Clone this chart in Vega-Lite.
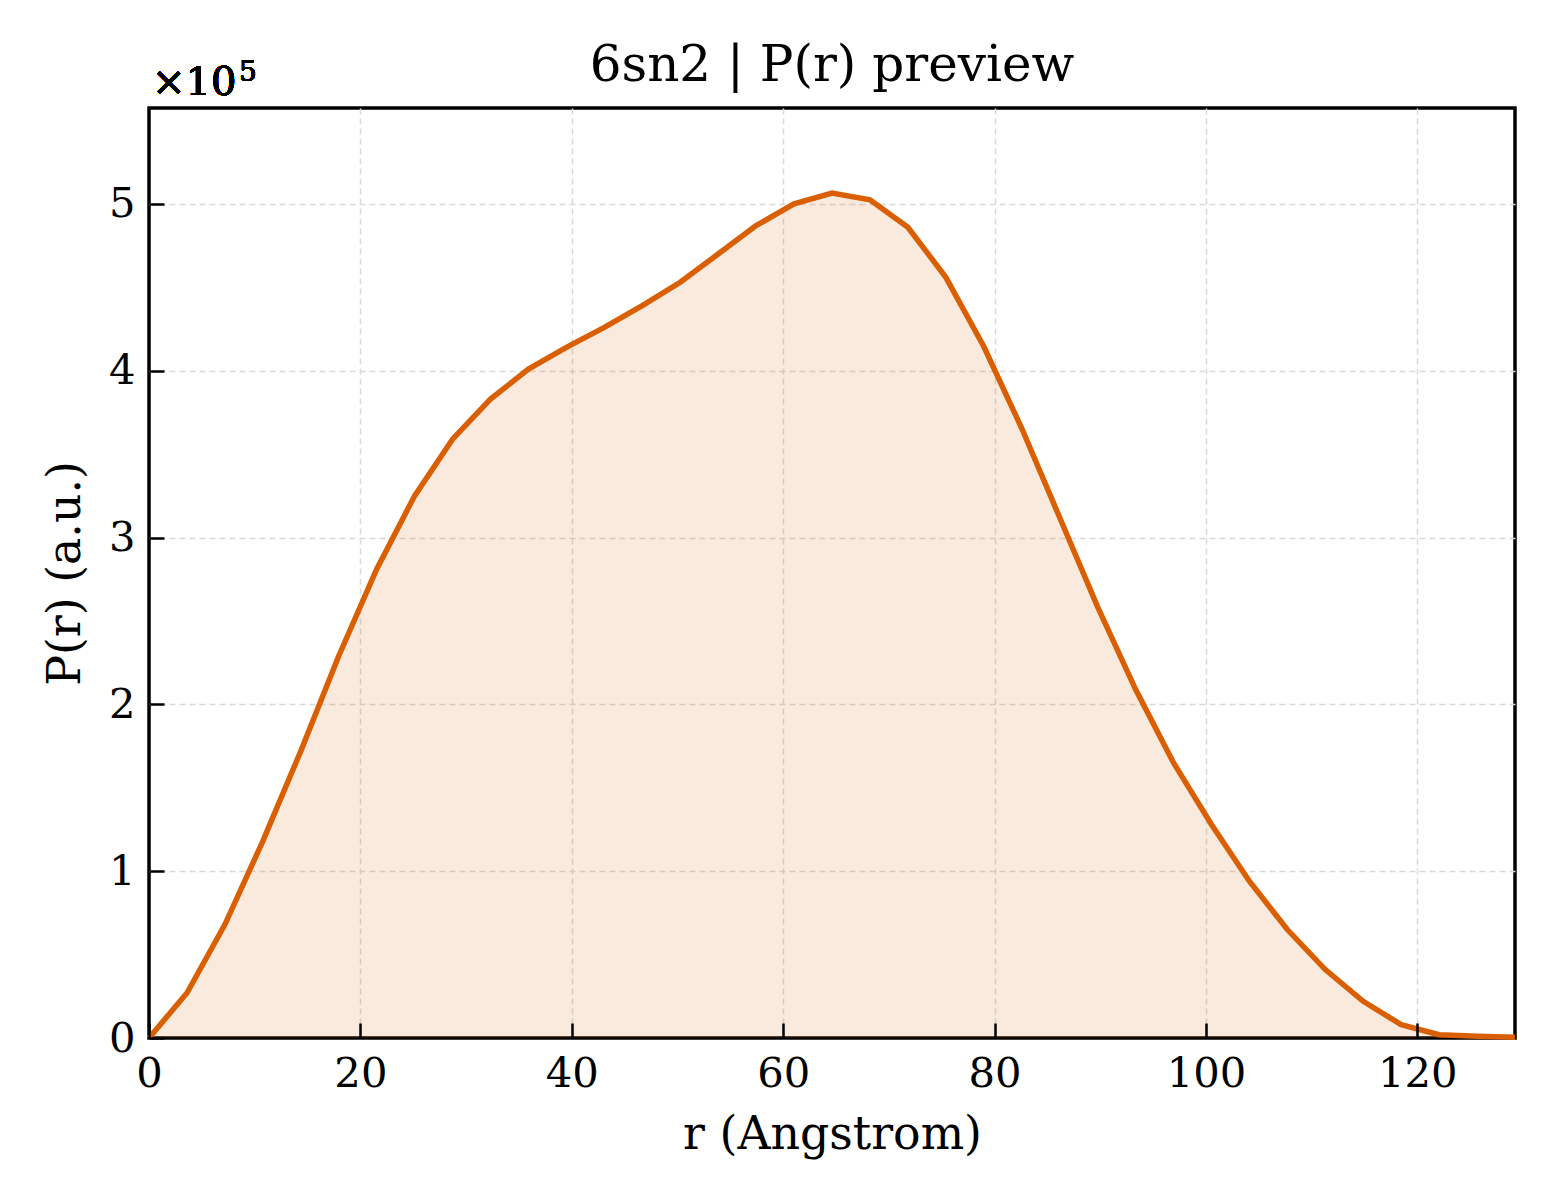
{
  "$schema": "https://vega.github.io/schema/vega-lite/v6.json",
  "autosize": "none",
  "width": 1366,
  "height": 930,
  "padding": {"left": 149, "top": 108, "right": 45, "bottom": 162},
  "background": "#ffffff",
  "title": {
    "text": "6sn2 | P(r) preview",
    "font": "DejaVu Serif",
    "fontSize": 50,
    "fontWeight": "normal",
    "color": "#000000",
    "offset": -32
  },
  "data": {
    "values": [
      {"r": 0.0, "p": 0},
      {"r": 3.59, "p": 27000},
      {"r": 7.18, "p": 68000},
      {"r": 10.77, "p": 118000},
      {"r": 14.36, "p": 172000},
      {"r": 17.95, "p": 229000},
      {"r": 21.54, "p": 281000},
      {"r": 25.13, "p": 325000},
      {"r": 28.72, "p": 359000},
      {"r": 32.31, "p": 383000},
      {"r": 35.9, "p": 401000},
      {"r": 39.49, "p": 414000},
      {"r": 43.08, "p": 426000},
      {"r": 46.67, "p": 439000},
      {"r": 50.26, "p": 453000},
      {"r": 53.85, "p": 470000},
      {"r": 57.44, "p": 487000},
      {"r": 61.03, "p": 500000},
      {"r": 64.62, "p": 506500},
      {"r": 68.21, "p": 502500},
      {"r": 71.8, "p": 486000},
      {"r": 75.39, "p": 456000},
      {"r": 78.98, "p": 414500},
      {"r": 82.57, "p": 365500},
      {"r": 86.16, "p": 312000},
      {"r": 89.75, "p": 258500},
      {"r": 93.34, "p": 209000},
      {"r": 96.93, "p": 165000},
      {"r": 100.52, "p": 128000},
      {"r": 104.11, "p": 94000},
      {"r": 107.7, "p": 65000},
      {"r": 111.29, "p": 41000},
      {"r": 114.88, "p": 22000},
      {"r": 118.47, "p": 8000},
      {"r": 122.06, "p": 2000},
      {"r": 125.65, "p": 1000},
      {"r": 129.24, "p": 500}
    ]
  },
  "layer": [
    {
      "mark": {"type": "area", "color": "#d95f02", "opacity": 0.13},
      "encoding": {
        "x": {
          "field": "r",
          "type": "quantitative",
          "title": "r (Angstrom)",
          "scale": {"domain": [0, 129.24], "nice": false, "zero": false},
          "axis": {
            "orient": "bottom",
            "values": [0, 20, 40, 60, 80, 100, 120],
            "format": "d",
            "labelPadding": 15,
            "titlePadding": 18
          }
        },
        "y": {
          "field": "p",
          "type": "quantitative",
          "title": "P(r) (a.u.)",
          "scale": {"domain": [0, 557500], "nice": false},
          "axis": {
            "orient": "left",
            "values": [0, 100000, 200000, 300000, 400000, 500000],
            "labelExpr": "format(datum.value / 100000, 'd')",
            "labelPadding": 14,
            "titlePadding": 19
          }
        }
      }
    },
    {
      "mark": {"type": "line", "color": "#d95f02", "strokeWidth": 5.5},
      "encoding": {
        "x": {
          "field": "r",
          "type": "quantitative",
          "scale": {"domain": [0, 129.24], "nice": false, "zero": false},
          "axis": {
            "orient": "bottom",
            "offset": -15,
            "values": [0, 20, 40, 60, 80, 100, 120],
            "labels": false,
            "grid": false,
            "title": null,
            "ticks": true,
            "tickSize": 15,
            "tickColor": "#000000",
            "tickWidth": 2.5,
            "zindex": 2
          }
        },
        "y": {
          "field": "p",
          "type": "quantitative",
          "scale": {"domain": [0, 557500], "nice": false},
          "axis": {
            "orient": "left",
            "offset": -15,
            "values": [0, 100000, 200000, 300000, 400000, 500000],
            "labels": false,
            "grid": false,
            "title": null,
            "ticks": true,
            "tickSize": 15,
            "tickColor": "#000000",
            "tickWidth": 2.5,
            "zindex": 2
          }
        }
      }
    },
    {
      "mark": {
        "type": "text",
        "text": "×10",
        "align": "left",
        "baseline": "alphabetic",
        "dx": 3,
        "dy": -13,
        "font": "DejaVu Serif",
        "fontSize": 40,
        "color": "#000000"
      },
      "encoding": {
        "x": {"datum": 0, "type": "quantitative", "axis": null},
        "y": {"datum": 557500, "type": "quantitative", "axis": null}
      }
    },
    {
      "mark": {
        "type": "text",
        "text": "5",
        "align": "left",
        "baseline": "alphabetic",
        "dx": 90,
        "dy": -27,
        "font": "DejaVu Serif",
        "fontSize": 28,
        "color": "#000000"
      },
      "encoding": {
        "x": {"datum": 0, "type": "quantitative", "axis": null},
        "y": {"datum": 557500, "type": "quantitative", "axis": null}
      }
    }
  ],
  "resolve": {"axis": {"x": "independent", "y": "independent"}},
  "config": {
    "view": {"stroke": "#000000", "strokeWidth": 3.5},
    "axis": {
      "domain": false,
      "grid": true,
      "gridColor": {"condition": {"test": "datum.value == 0", "value": "transparent"}, "value": "#d9d9d9"},
      "gridDash": [6, 4],
      "gridWidth": 1.5,
      "ticks": false,
      "tickColor": "#000000",
      "tickWidth": 2.5,
      "labelFlush": false,
      "labelOverlap": false,
      "labelFont": "DejaVu Serif",
      "labelFontSize": 41.7,
      "labelColor": "#000000",
      "titleFont": "DejaVu Serif",
      "titleFontSize": 45.8,
      "titleFontWeight": "normal",
      "titleColor": "#000000"
    }
  }
}
